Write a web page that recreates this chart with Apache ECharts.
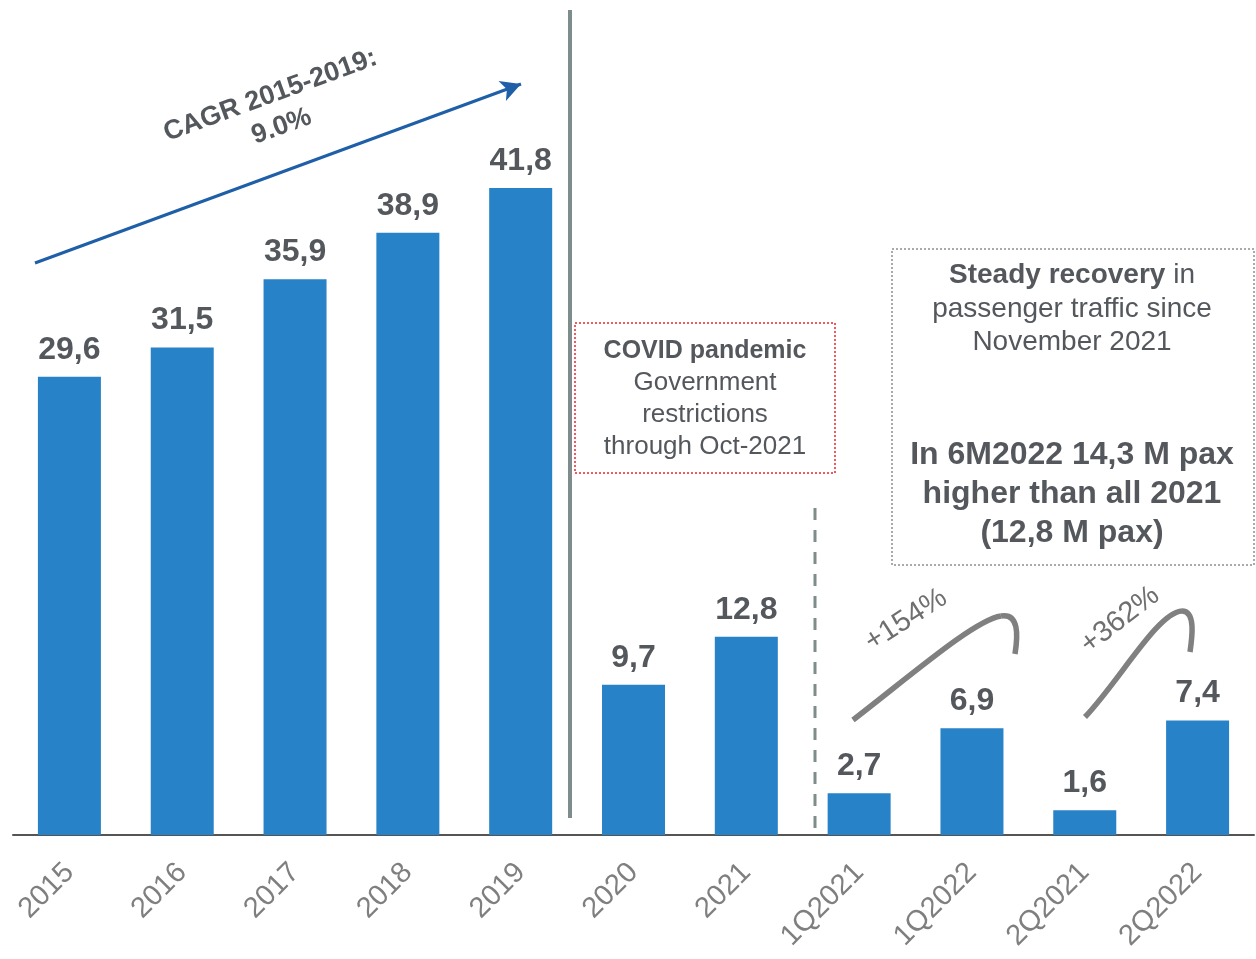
<!DOCTYPE html>
<html>
<head>
<meta charset="utf-8">
<script src="https://cdn.jsdelivr.net/npm/echarts@6/dist/echarts.min.js"></script>
<style>
  html, body { margin: 0; padding: 0; background: #fff; }
  #chart { width: 1256px; height: 959px; }
</style>
</head>
<body>
<div id="chart"></div>
<script>
// categories and passenger values (M pax)
var categories = ['2015', '2016', '2017', '2018', '2019', '2020', '2021', '1Q2021', '1Q2022', '2Q2021', '2Q2022'];
var paxValues = [29.6, 31.5, 35.9, 38.9, 41.8, 9.7, 12.8, 2.7, 6.9, 1.6, 7.4];

var textDark = '#54585d';
var lineGray = '#7f8c8c';
var hookStyle = { fill: 'none', stroke: '#808080', lineWidth: 5.5 };

var myChart = echarts.init(document.getElementById('chart'));

myChart.setOption({
  animation: false,
  grid: { left: 13, right: 2, top: 61, bottom: 124 },
  xAxis: {
    type: 'category',
    data: categories,
    axisLine: { lineStyle: { color: '#555', width: 2 } },
    axisTick: { show: false },
    axisLabel: {
      rotate: 45,
      margin: 33,
      color: '#7f7f7f',
      fontFamily: 'Liberation Sans',
      fontSize: 29,
      interval: 0
    }
  },
  yAxis: {
    type: 'value',
    min: 0,
    max: 50,
    show: false,
    splitLine: { show: false }
  },
  series: [{
    type: 'bar',
    data: paxValues,
    barWidth: 63,
    itemStyle: { color: '#2882c8' },
    label: {
      show: true,
      position: 'top',
      distance: 11,
      color: textDark,
      fontFamily: 'Liberation Sans',
      fontWeight: 'bold',
      fontSize: 32,
      formatter: function (p) { return String(p.value).replace('.', ','); }
    },
    markLine: {
      silent: true,
      symbol: ['none', 'arrow'],
      symbolSize: [16, 20],
      label: { show: false },
      lineStyle: { color: '#1f5fa8', width: 3, type: 'solid' },
      data: [[{ x: 35, y: 263 }, { x: 521, y: 84 }]]
    }
  }],
  graphic: [
    // separator 2019 / 2020
    { type: 'line', shape: { x1: 570, y1: 10, x2: 570, y2: 818 }, style: { stroke: lineGray, lineWidth: 4 } },
    // dashed separator before quarters
    { type: 'line', shape: { x1: 815, y1: 508, x2: 815, y2: 834 }, style: { stroke: lineGray, lineWidth: 3, lineDash: [12, 10] } },
    // CAGR text
    {
      type: 'text', x: 276, y: 111, rotation: 0.35,
      style: {
        text: 'CAGR 2015-2019:\n9.0%', fill: textDark, align: 'center', verticalAlign: 'middle',
        font: 'bold 27px "Liberation Sans"', lineHeight: 33
      }
    },
    // COVID box
    { type: 'rect', shape: { x: 575, y: 323, width: 260, height: 150 }, style: { fill: 'none', stroke: '#e8262b', lineWidth: 1.5, lineDash: [2, 2] } },
    {
      type: 'text', x: 705, y: 335,
      style: {
        text: '{b|COVID pandemic}\nGovernment\nrestrictions\nthrough Oct-2021',
        fill: textDark, align: 'center', font: '26px "Liberation Sans"', lineHeight: 32,
        rich: { b: { fontWeight: 'bold', fontSize: 25, fontFamily: 'Liberation Sans', fill: textDark, lineHeight: 32 } }
      }
    },
    // recovery box
    { type: 'rect', shape: { x: 892, y: 249, width: 362, height: 316 }, style: { fill: 'none', stroke: '#8c9090', lineWidth: 1.5, lineDash: [2, 2] } },
    {
      type: 'text', x: 1072, y: 259,
      style: {
        text: '{b|Steady recovery} in\npassenger traffic since\nNovember 2021',
        fill: textDark, align: 'center', font: '28px "Liberation Sans"', lineHeight: 33.5,
        rich: { b: { fontWeight: 'bold', fontSize: 28, fontFamily: 'Liberation Sans', fill: textDark, lineHeight: 33.5 } }
      }
    },
    {
      type: 'text', x: 1072, y: 436,
      style: {
        text: 'In 6M2022 14,3 M pax\nhigher than all 2021\n(12,8 M pax)',
        fill: textDark, align: 'center', font: 'bold 32px "Liberation Sans"', lineHeight: 39
      }
    },
    // growth hooks
    { type: 'bezierCurve', shape: { x1: 853, y1: 720, cpx1: 915, cpy1: 672, cpx2: 975, cpy2: 620, x2: 1001, y2: 616 }, style: hookStyle },
    { type: 'bezierCurve', shape: { x1: 1001, y1: 616, cpx1: 1019, cpy1: 613, cpx2: 1018, cpy2: 635, x2: 1015, y2: 654 }, style: hookStyle },
    { type: 'bezierCurve', shape: { x1: 1085, y1: 717, cpx1: 1120, cpy1: 680, cpx2: 1158, cpy2: 612, x2: 1182, y2: 611 }, style: hookStyle },
    { type: 'bezierCurve', shape: { x1: 1182, y1: 611, cpx1: 1196, cpy1: 611, cpx2: 1192, cpy2: 638, x2: 1190, y2: 652 }, style: hookStyle },
    {
      type: 'text', x: 906, y: 620, rotation: 0.57,
      style: { text: '+154%', fill: '#6f6f6f', align: 'center', verticalAlign: 'middle', font: '29px "Liberation Sans"' }
    },
    {
      type: 'text', x: 1120, y: 620, rotation: 0.66,
      style: { text: '+362%', fill: '#6f6f6f', align: 'center', verticalAlign: 'middle', font: '29px "Liberation Sans"' }
    }
  ]
});
</script>
</body>
</html>
